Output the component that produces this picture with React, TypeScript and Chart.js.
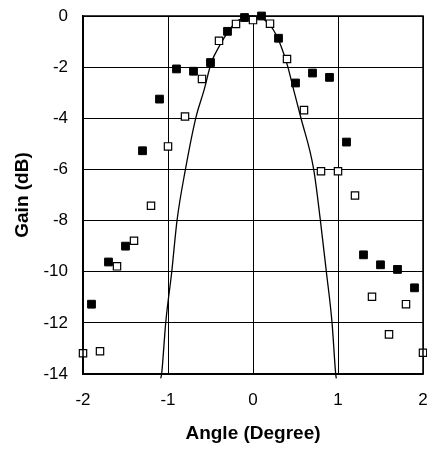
import React, { useEffect, useRef } from 'react';
import { Chart, registerables } from 'chart.js';

Chart.register(...registerables);

// Open squares
const openAngle = [-2.0, -1.8, -1.6, -1.4, -1.2, -1.0, -0.8, -0.6, -0.4, -0.2, 0.0, 0.2, 0.4, 0.6, 0.8, 1.0, 1.2, 1.4, 1.6, 1.8, 2.0];
const openGain = [-13.19, -13.11, -9.79, -8.79, -7.42, -5.1, -3.93, -2.46, -0.97, -0.31, -0.16, -0.3, -1.68, -3.68, -6.07, -6.07, -7.02, -10.98, -12.45, -11.27, -13.17];

// Filled squares
const filledAngle = [-1.9, -1.7, -1.5, -1.3, -1.1, -0.9, -0.7, -0.5, -0.3, -0.1, 0.1, 0.3, 0.5, 0.7, 0.9, 1.1, 1.3, 1.5, 1.7, 1.9];
const filledGain = [-11.27, -9.62, -9.0, -5.27, -3.25, -2.07, -2.16, -1.82, -0.6, -0.06, 0.0, -0.87, -2.62, -2.23, -2.4, -4.93, -9.34, -9.73, -9.91, -10.63];

// Theoretical curve
const curveAngle = [-1.086, -1.075, -1.027, -0.956, -0.894, -0.795, -0.674, -0.576, -0.49, -0.39, -0.29, -0.2, -0.1, -0.02, 0.1, 0.2, 0.275, 0.34, 0.405, 0.479, 0.565, 0.714, 0.793, 0.863, 0.93, 0.973, 0.98];
const curveGain = [-14.17, -14, -12, -10, -8, -6, -4, -2.9, -1.82, -1.14, -0.6, -0.23, -0.06, 0, -0.08, -0.36, -0.75, -1.27, -1.93, -2.9, -4, -6, -8, -10, -12, -14, -14.17];

const xMin = -2;
const xMax = 2;
const xStep = 1;
const yMin = -14;
const yMax = 0;
const yStep = 2;

const xTitle = 'Angle (Degree)';
const yTitle = 'Gain (dB)';

const FONT = "'Liberation Sans', Arial, Helvetica, sans-serif";

const toPoints = (xs: number[], ys: number[]) => xs.map((x, i) => ({ x, y: ys[i] }));

const plotBorder = {
  id: 'plotBorder',
  afterDraw(chart: any) {
    const { ctx, chartArea } = chart;
    ctx.save();
    ctx.strokeStyle = '#000';
    ctx.lineWidth = 1.5;
    ctx.strokeRect(chartArea.left, chartArea.top, chartArea.right - chartArea.left, chartArea.bottom - chartArea.top);
    ctx.restore();
  },
};

const CANVAS_W = 444;
const CANVAS_H = 451;

export default function App() {
  const ref = useRef<HTMLCanvasElement | null>(null);

  useEffect(() => {
    if (!ref.current) return;
    const chart = new Chart(ref.current, {
      type: 'scatter',
      data: {
        datasets: [
          {
            label: 'Filled',
            data: toPoints(filledAngle, filledGain),
            pointStyle: 'rect',
            pointRadius: 5.5,
            pointHoverRadius: 5.5,
            backgroundColor: '#000',
            borderColor: '#000',
            borderWidth: 1,
            clip: false,
          },
          {
            label: 'Open',
            data: toPoints(openAngle, openGain),
            pointStyle: 'rect',
            pointRadius: 5.2,
            pointHoverRadius: 5.2,
            backgroundColor: '#fff',
            borderColor: '#000',
            borderWidth: 1.2,
            clip: false,
          },
          {
            label: 'Curve',
            data: toPoints(curveAngle, curveGain),
            showLine: true,
            pointRadius: 0,
            borderColor: '#000',
            borderWidth: 1.3,
            backgroundColor: '#000',
            cubicInterpolationMode: 'monotone',
            clip: false,
          } as any,
        ],
      },
      options: {
        animation: false,
        responsive: false,
        events: [],
        layout: { padding: { top: 16, right: 21, bottom: 0, left: 0 } },
        plugins: {
          legend: { display: false },
          tooltip: { enabled: false },
          title: { display: false },
        },
        scales: {
          x: {
            type: 'linear',
            min: xMin,
            max: xMax,
            afterFit: (scale: any) => {
              scale.height = 77;
            },
            ticks: {
              stepSize: xStep,
              color: '#000',
              padding: 0,
              font: { family: FONT, size: 17 },
            },
            grid: { color: '#000', lineWidth: 1, drawTicks: true, tickLength: 16, tickColor: 'rgba(0,0,0,0)' },
            border: { display: true, color: '#000', width: 1.5 },
            title: {
              display: true,
              text: xTitle,
              color: '#000',
              font: { family: FONT, size: 19, weight: 'bold' },
              padding: { top: 0, bottom: 5.6 },
            },
          },
          y: {
            type: 'linear',
            min: yMin,
            max: yMax,
            afterFit: (scale: any) => {
              scale.width = 83;
            },
            ticks: {
              stepSize: yStep,
              color: '#000',
              padding: 0,
              font: { family: FONT, size: 17 },
            },
            grid: { color: '#000', lineWidth: 1, drawTicks: true, tickLength: 15, tickColor: 'rgba(0,0,0,0)' },
            border: { display: true, color: '#000', width: 1.5 },
            title: {
              display: true,
              text: yTitle,
              color: '#000',
              font: { family: FONT, size: 19, weight: 'bold' },
              padding: { top: 11.6, bottom: 0 },
            },
          },
        },
      },
      plugins: [plotBorder],
    });
    return () => chart.destroy();
  }, []);

  return (
    <div style={{ position: 'fixed', left: 0, top: 0, width: 427, height: 451, overflow: 'hidden', background: '#fff' }}>
      <canvas ref={ref} width={CANVAS_W} height={CANVAS_H} style={{ display: 'block', width: CANVAS_W, height: CANVAS_H }} />
    </div>
  );
}
